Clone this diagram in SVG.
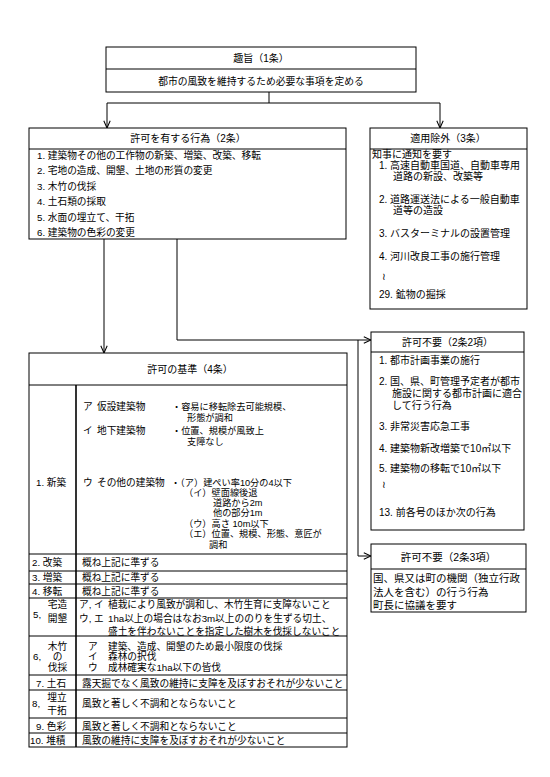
<svg xmlns="http://www.w3.org/2000/svg" width="550" height="777" viewBox="0 0 550 777">
<style>
.t{font-family:"Liberation Sans","Noto Sans CJK JP",sans-serif;font-size:10px;fill:#000}
.s{font-size:9.7px}
.m{font-size:9.2px}
.l{font-size:10.5px}
.c{text-anchor:middle}
.box{fill:#fff;stroke:#000;stroke-width:1}
.ln{stroke:#000;stroke-width:1;fill:none}
.thick{stroke:#000;stroke-width:1.6;fill:none}
.conn{stroke:#000;stroke-width:1;fill:none}
</style>
<defs>
<marker id="arr" viewBox="0 0 10 10" markerWidth="8" markerHeight="8" refX="10" refY="5" orient="auto" markerUnits="userSpaceOnUse">
<path d="M1,1 L10,5 L1,9" fill="none" stroke="#000" stroke-width="1.3"/>
</marker>
</defs>
<rect width="550" height="777" fill="#fff"/>

<g id="connectors">
<path class="conn" d="M269,92 V103"/>
<path class="conn" d="M107,103 H440"/>
<path class="conn" d="M107,103 V128" marker-end="url(#arr)"/>
<path class="conn" d="M440,103 V128" marker-end="url(#arr)"/>
<path class="conn" d="M104,239 V353" marker-end="url(#arr)"/>
<path class="conn" d="M177,239 V340 H371" marker-end="url(#arr)"/>
<path class="conn" d="M358,340 V556 H371" marker-end="url(#arr)"/>
</g>

<g id="n-purpose">
<rect class="box" x="106" y="47" width="310" height="45"/>
<line class="ln" x1="106" y1="69" x2="416" y2="69"/>
<text class="t c" x="261" y="61.5">趣旨（1条）</text>
<text class="t c" x="261" y="84.5" style="font-size:9.8px">都市の風致を維持するため必要な事項を定める</text>
</g>

<g id="n-permit-acts">
<rect class="box" x="29" y="128" width="317" height="111"/>
<line class="ln" x1="29" y1="149" x2="346" y2="149"/>
<text class="t c" x="188" y="142">許可を有する行為（2条）</text>
<text class="t s" x="37" y="158.5">1. 建築物その他の工作物の新築、増築、改築、移転</text>
<text class="t s" x="37" y="174">2. 宅地の造成、開墾、土地の形質の変更</text>
<text class="t s" x="37" y="189.5">3. 木竹の伐採</text>
<text class="t s" x="37" y="205">4. 土石類の採取</text>
<text class="t s" x="37" y="220.5">5. 水面の埋立て、干拓</text>
<text class="t s" x="37" y="236">6. 建築物の色彩の変更</text>
</g>

<g id="n-exempt">
<rect class="box" x="370" y="128" width="157" height="181"/>
<line class="ln" x1="370" y1="149" x2="527" y2="149"/>
<text class="t c" x="448" y="141.5">適用除外（3条）</text>
<text class="t" x="372" y="157.5">知事に通知を要す</text>
<text class="t" x="379" y="168.5">1. 高速自動車国道、自動車専用</text>
<text class="t" x="393" y="180">道路の新設、改築等</text>
<text class="t" x="379" y="203">2. 道路運送法による一般自動車</text>
<text class="t" x="393" y="214">道等の造設</text>
<text class="t" x="379" y="237">3. バスターミナルの設置管理</text>
<text class="t" x="379" y="259.5">4. 河川改良工事の施行管理</text>
<text class="t" x="382" y="280">≀</text>
<text class="t" x="379" y="298">29. 鉱物の掘採</text>
</g>

<g id="n-nopermit-2-2">
<rect class="box" x="371" y="332" width="153" height="198"/>
<line class="ln" x1="371" y1="352" x2="524" y2="352"/>
<text class="t c" x="447.5" y="345.5">許可不要（2条2項）</text>
<text class="t" x="379" y="363.5">1. 都市計画事業の施行</text>
<text class="t" x="379" y="385">2. 国、県、町管理予定者が都市</text>
<text class="t" x="392" y="396.5">施設に関する都市計画に適合</text>
<text class="t" x="392" y="408.5">して行う行為</text>
<text class="t" x="379" y="429.5">3. 非常災害応急工事</text>
<text class="t" x="379" y="451.5">4. 建築物新改増築で10㎡以下</text>
<text class="t" x="379" y="471.5">5. 建築物の移転で10㎡以下</text>
<text class="t" x="382" y="487.5">≀</text>
<text class="t" x="379" y="515.5">13. 前各号のほか次の行為</text>
</g>

<g id="n-nopermit-2-3">
<rect class="box" x="371" y="544" width="155" height="68"/>
<line class="ln" x1="371" y1="569" x2="526" y2="569"/>
<text class="t c l" x="448.5" y="560.5">許可不要（2条3項）</text>
<text class="t l" x="373" y="581.5">国、県又は町の機関（独立行政</text>
<text class="t l" x="373" y="595.5">法人を含む）の行う行為</text>
<text class="t l" x="373" y="608.5">町長に協議を要す</text>
</g>

<g id="n-criteria">
<rect class="box" x="29" y="353" width="318" height="394"/>
<line class="ln" x1="29" y1="385" x2="347" y2="385"/>
<line class="thick" x1="76" y1="385" x2="76" y2="747"/>
<line class="ln" x1="29" y1="554" x2="347" y2="554"/>
<line class="ln" x1="29" y1="571" x2="347" y2="571"/>
<line class="ln" x1="29" y1="584" x2="347" y2="584"/>
<line class="ln" x1="29" y1="598" x2="347" y2="598"/>
<line class="ln" x1="29" y1="636" x2="347" y2="636"/>
<line class="ln" x1="29" y1="675" x2="347" y2="675"/>
<line class="ln" x1="29" y1="690" x2="347" y2="690"/>
<line class="ln" x1="29" y1="718" x2="347" y2="718"/>
<line class="ln" x1="29" y1="733" x2="347" y2="733"/>
<text class="t c" x="190" y="372.5">許可の基準（4条）</text>

<text class="t s" x="83" y="410">ア</text>
<text class="t s" x="97" y="410">仮設建築物</text>
<text class="t m" x="172" y="410">・容易に移転除去可能規模、</text>
<text class="t m" x="187" y="421">形態が調和</text>
<text class="t s" x="83" y="433.5">イ</text>
<text class="t s" x="97" y="433.5">地下建築物</text>
<text class="t m" x="172" y="433.5">・位置、規模が風致上</text>
<text class="t m" x="187" y="444.5">支障なし</text>
<text class="t s" x="36" y="485.5">1. 新築</text>
<text class="t s" x="83" y="485.5">ウ</text>
<text class="t s" x="97" y="485.5">その他の建築物</text>
<text class="t m" x="171" y="485.5">・（ア）建ぺい率10分の4以下</text>
<text class="t m" x="184" y="496">（イ）壁面線後退</text>
<text class="t m" x="213" y="506">道路から2m</text>
<text class="t m" x="213" y="516">他の部分1m</text>
<text class="t m" x="184" y="526.5">（ウ）高さ 10m以下</text>
<text class="t m" x="184" y="537">（エ）位置、規模、形態、意匠が</text>
<text class="t m" x="209" y="547.5">調和</text>

<text class="t s" x="32" y="566">2. 改築</text>
<text class="t s" x="82" y="566">概ね上記に準ずる</text>
<text class="t s" x="32" y="581">3. 増築</text>
<text class="t s" x="82" y="581">概ね上記に準ずる</text>
<text class="t s" x="32" y="594.5">4. 移転</text>
<text class="t s" x="82" y="594.5">概ね上記に準ずる</text>

<text class="t s" x="33" y="617.5">5,</text>
<text class="t s c" x="57.5" y="607.5">宅造</text>
<text class="t s c" x="57.5" y="621.5">開墾</text>
<text class="t s" x="79" y="607.5">ア, イ</text>
<text class="t s" x="108" y="607.5">植栽により風致が調和し、木竹生育に支障ないこと</text>
<text class="t s" x="79" y="621.5">ウ, エ</text>
<text class="t s" x="108" y="621.5">1ha以上の場合はなお3m以上ののりを生ずる切土、</text>
<text class="t s" x="108" y="634.5">盛土を伴わないことを指定した樹木を伐採しないこと</text>

<text class="t s" x="33" y="660">6,</text>
<text class="t s c" x="57.5" y="649.5">木竹</text>
<text class="t s c" x="57.5" y="660">の</text>
<text class="t s c" x="57.5" y="671">伐採</text>
<text class="t s" x="88" y="649.5">ア</text>
<text class="t s" x="108" y="649.5">建築、造成、開墾のため最小限度の伐採</text>
<text class="t s" x="88" y="660">イ</text>
<text class="t s" x="108" y="660">森林の択伐</text>
<text class="t s" x="88" y="671">ウ</text>
<text class="t s" x="108" y="671">成林確実な1ha以下の皆伐</text>

<text class="t s" x="36" y="686.5">7. 土石</text>
<text class="t s" x="82" y="686.5">露天掘でなく風致の維持に支障を及ぼすおそれが少ないこと</text>
<text class="t s" x="32" y="706.5">8,</text>
<text class="t s c" x="57" y="700.5">埋立</text>
<text class="t s c" x="57" y="713.5">干拓</text>
<text class="t s" x="82" y="706.5">風致と著しく不調和とならないこと</text>
<text class="t s" x="36" y="729.5">9. 色彩</text>
<text class="t s" x="82" y="729.5">風致と著しく不調和とならないこと</text>
<text class="t s" x="30" y="744">10. 堆積</text>
<text class="t s" x="82" y="744">風致の維持に支障を及ぼすおそれが少ないこと</text>
</g>
</svg>
